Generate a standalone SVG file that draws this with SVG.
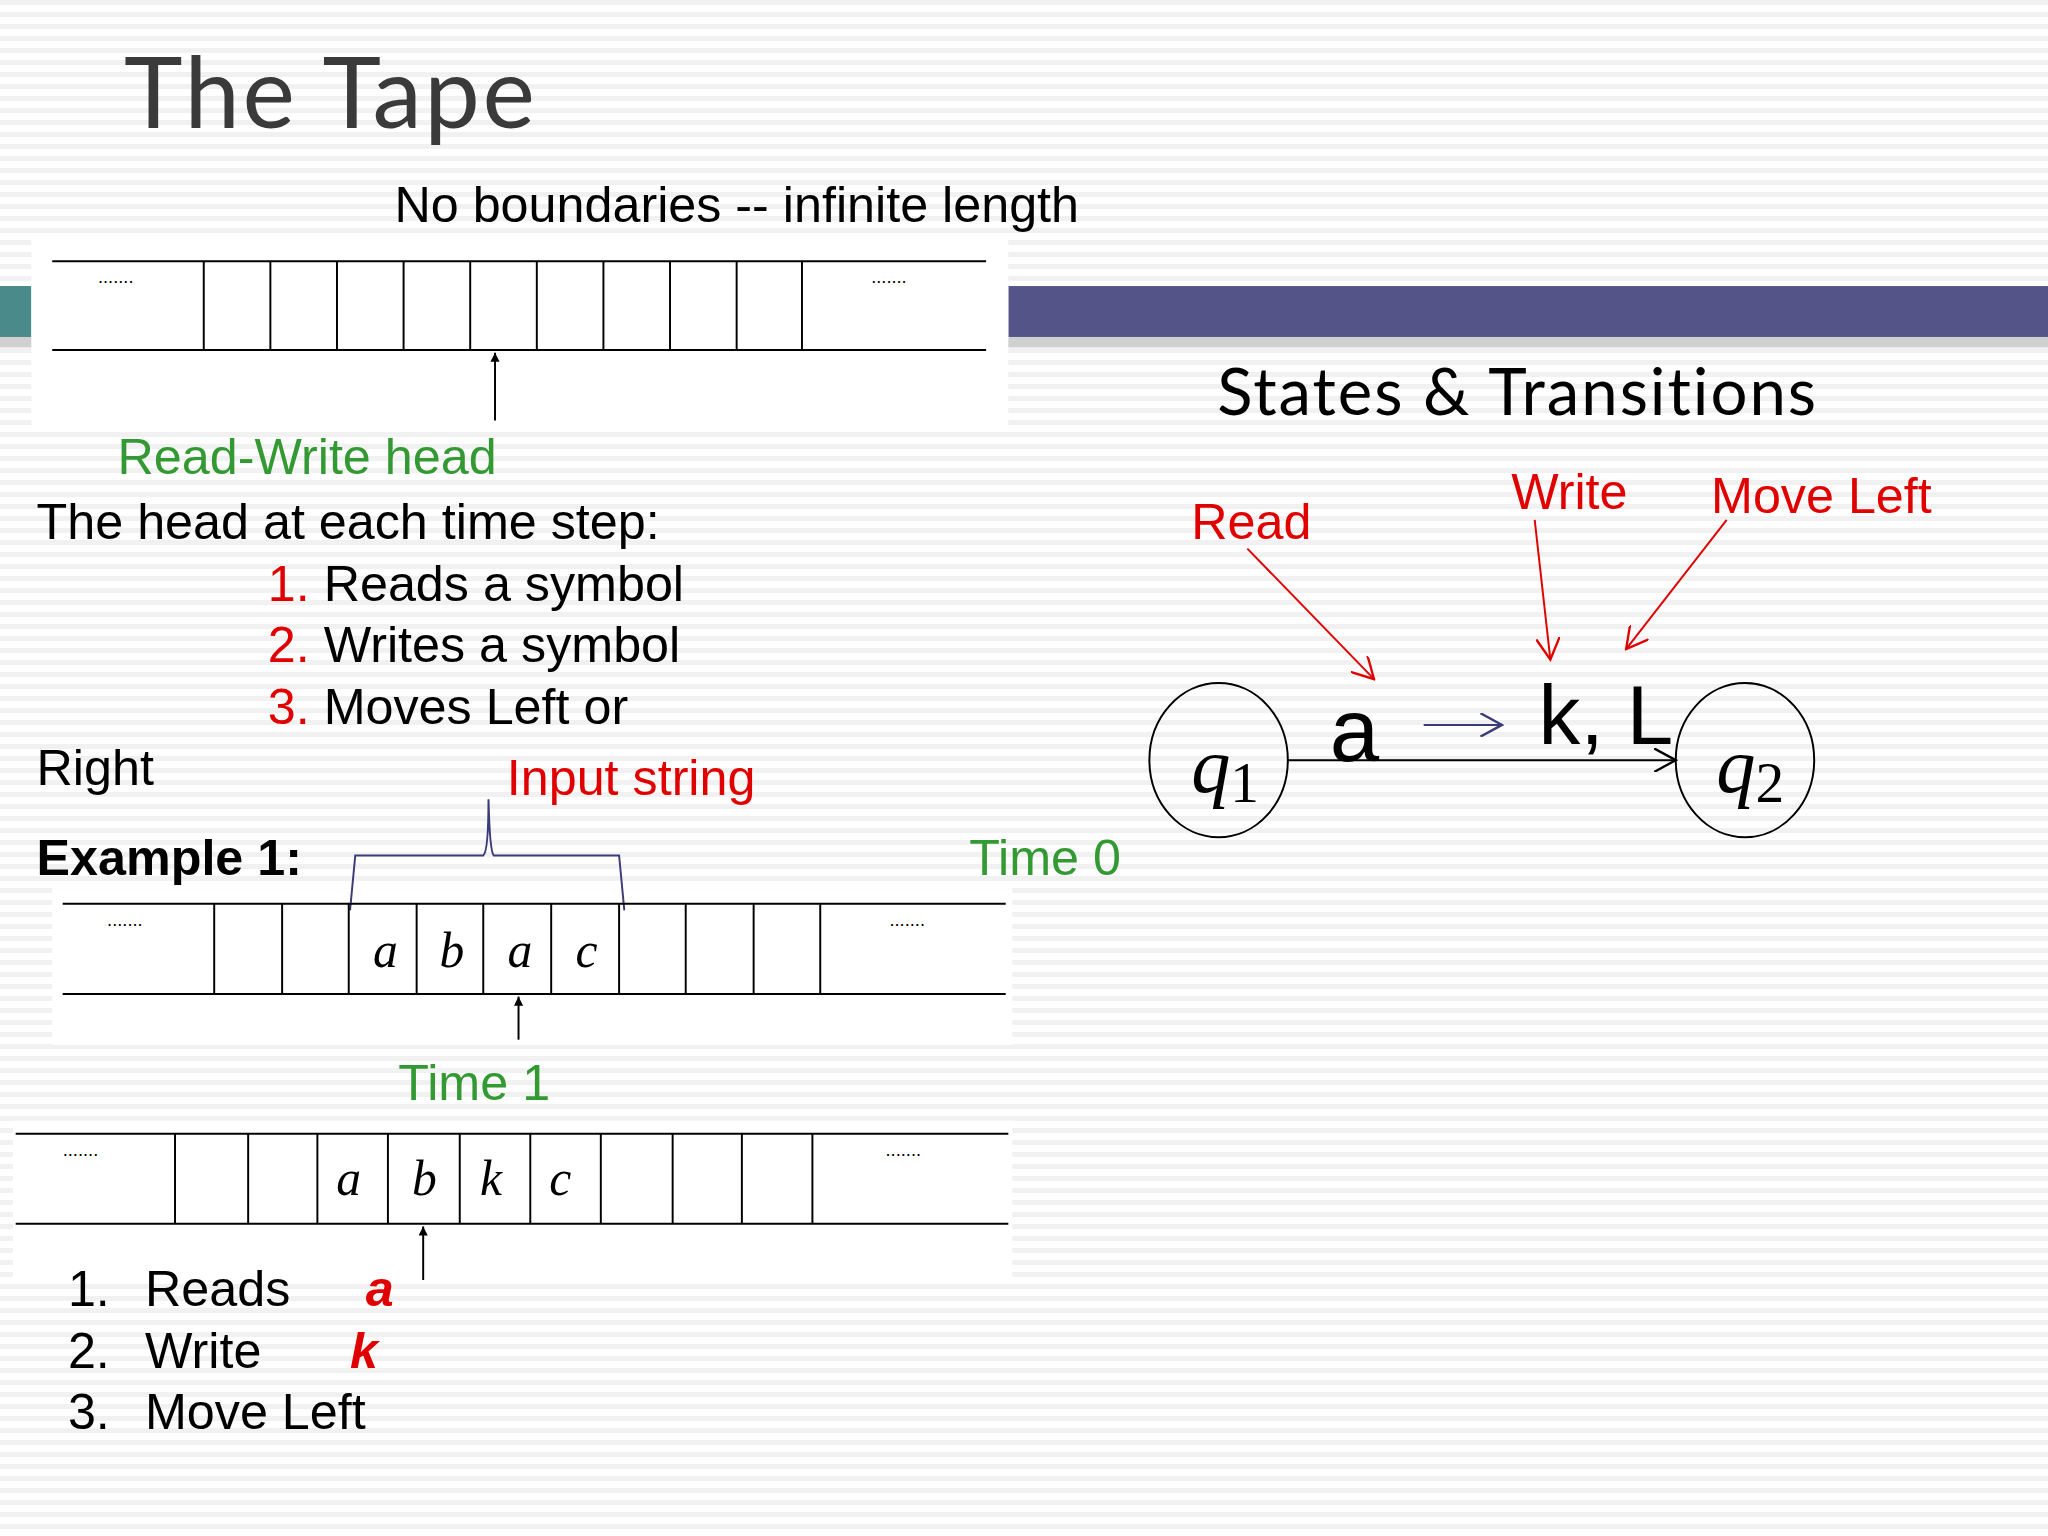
<svg xmlns="http://www.w3.org/2000/svg" width="2048" height="1536" viewBox="0 0 2048 1536">
<defs>
<pattern id="stripes" width="10" height="12" patternUnits="userSpaceOnUse"><rect width="10" height="12" fill="#ffffff"/><rect y="0" width="10" height="5" fill="#f1f1f1"/></pattern>
<marker id="up" viewBox="0 0 10 10" refX="10" refY="5" markerWidth="9" markerHeight="7" orient="auto" markerUnits="userSpaceOnUse"><path d="M0,0 L10,5 L0,10 Z" fill="#000"/></marker>
<marker id="open" viewBox="0 0 12 12" refX="11" refY="6" markerWidth="18" markerHeight="18" orient="auto" markerUnits="userSpaceOnUse"><path d="M0,0 L11,6 L0,12" fill="none" stroke="context-stroke" stroke-width="1.2"/></marker>
<style>
.t{font-family:"Liberation Sans",Arial,sans-serif;font-size:38.5px}
.g{fill:#339933}.r{fill:#e00000}
.tape line{stroke:#000;stroke-width:1.5}
.sym{font-family:"Liberation Serif","Times New Roman",serif;font-style:italic;font-size:38px;text-anchor:middle}
.dots{font-family:"Liberation Sans",sans-serif;font-size:14px}
.red{stroke:#e00000;stroke-width:1.5;fill:none}
</style>
</defs>
<rect width="2048" height="1536" fill="url(#stripes)"/>
<g transform="scale(1.30612)">
<rect x="772" y="219" width="796" height="39" fill="#545488"/>
<rect x="0" y="219" width="24" height="39" fill="#4a8a8a"/>
<rect x="0" y="258" width="1568" height="8" fill="#d0d0d0"/>
<rect x="24" y="180" width="748" height="150" fill="#fff"/>
<rect x="40" y="680" width="735" height="120" fill="#fff"/>
<rect x="10" y="858" width="765" height="120" fill="#fff"/>
<text id="title" x="95" y="98" font-family="Lato,'DejaVu Sans',sans-serif" font-size="76" letter-spacing="2" fill="#3a3a3a">The Tape</text>
<text class="t" x="302" y="170">No boundaries -- infinite length</text>
<g id="tape0" class="tape">
<line x1="40" y1="200" x2="755" y2="200"/><line x1="40" y1="268" x2="755" y2="268"/>
<line x1="156" y1="200" x2="156" y2="268"/><line x1="207" y1="200" x2="207" y2="268"/><line x1="258" y1="200" x2="258" y2="268"/><line x1="309" y1="200" x2="309" y2="268"/><line x1="360" y1="200" x2="360" y2="268"/><line x1="411" y1="200" x2="411" y2="268"/><line x1="462" y1="200" x2="462" y2="268"/><line x1="513" y1="200" x2="513" y2="268"/><line x1="564" y1="200" x2="564" y2="268"/><line x1="614" y1="200" x2="614" y2="268"/>
<text class="dots" x="75" y="217">.......</text><text class="dots" x="667" y="217">.......</text>
</g>
<text class="t g" x="90" y="363">Read-Write head</text>
<text class="t" x="28" y="413">The head at each time step:</text>
<text class="t" x="205" y="460"><tspan class="r">1.</tspan> Reads a symbol</text>
<text class="t" x="205" y="507"><tspan class="r">2.</tspan> Writes a symbol</text>
<text class="t" x="205" y="554"><tspan class="r">3.</tspan> Moves Left or</text>
<text class="t" x="28" y="601">Right</text>
<text class="t r" x="388" y="609">Input string</text>
<text class="t" x="28" y="670" font-weight="bold">Example 1:</text>
<text class="t g" x="742" y="670">Time 0</text>
<path d="M268,697 L272,655 L370,655 Q374,652 374,612 Q375,652 378,655 L474,655 L478,697" fill="none" stroke="#3b3b7a" stroke-width="1.5"/>
<g id="tape1" class="tape">
<line x1="48" y1="692" x2="770" y2="692"/><line x1="48" y1="761" x2="770" y2="761"/>
<line x1="164" y1="692" x2="164" y2="761"/><line x1="216" y1="692" x2="216" y2="761"/><line x1="267" y1="692" x2="267" y2="761"/><line x1="319" y1="692" x2="319" y2="761"/><line x1="370" y1="692" x2="370" y2="761"/><line x1="422" y1="692" x2="422" y2="761"/><line x1="474" y1="692" x2="474" y2="761"/><line x1="525" y1="692" x2="525" y2="761"/><line x1="577" y1="692" x2="577" y2="761"/><line x1="628" y1="692" x2="628" y2="761"/>
<text class="dots" x="82" y="709">.......</text><text class="dots" x="681" y="709">.......</text>
<text class="sym" x="295" y="740">a</text><text class="sym" x="346" y="740">b</text><text class="sym" x="398" y="740">a</text><text class="sym" x="449" y="740">c</text>
</g>
<text class="t g" x="305" y="842">Time 1</text>
<g id="tape2" class="tape">
<line x1="12" y1="868" x2="772" y2="868"/><line x1="12" y1="937" x2="772" y2="937"/>
<line x1="134" y1="868" x2="134" y2="937"/><line x1="190" y1="868" x2="190" y2="937"/><line x1="243" y1="868" x2="243" y2="937"/><line x1="297" y1="868" x2="297" y2="937"/><line x1="352" y1="868" x2="352" y2="937"/><line x1="406" y1="868" x2="406" y2="937"/><line x1="460" y1="868" x2="460" y2="937"/><line x1="515" y1="868" x2="515" y2="937"/><line x1="568" y1="868" x2="568" y2="937"/><line x1="622" y1="868" x2="622" y2="937"/>
<text class="dots" x="48" y="885">.......</text><text class="dots" x="678" y="885">.......</text>
<text class="sym" x="267" y="915">a</text><text class="sym" x="325" y="915">b</text><text class="sym" x="376" y="915">k</text><text class="sym" x="429" y="915">c</text>
</g>
<g id="connectors" stroke="#000" stroke-width="1.5">
<line x1="379" y1="322" x2="379" y2="270" marker-end="url(#up)"/>
<line x1="397" y1="796" x2="397" y2="763" marker-end="url(#up)"/>
<line x1="324" y1="980" x2="324" y2="939" marker-end="url(#up)"/>
<line x1="986" y1="582" x2="1283" y2="582" marker-end="url(#open)"/>
<line x1="1090" y1="555" x2="1150" y2="555" stroke="#3b3b7a" marker-end="url(#open)"/>
<line class="red" x1="955" y1="420" x2="1052" y2="520" marker-end="url(#open)"/>
<line class="red" x1="1175" y1="398" x2="1187" y2="505" marker-end="url(#open)"/>
<line class="red" x1="1322" y1="398" x2="1245" y2="497" marker-end="url(#open)"/>
</g>
<text class="t" x="52" y="1000">1.</text><text class="t" x="111" y="1000">Reads</text><text class="t r" x="280" y="1000" font-weight="bold" font-style="italic">a</text>
<text class="t" x="52" y="1047">2.</text><text class="t" x="111" y="1047">Write</text><text class="t r" x="268" y="1047" font-weight="bold" font-style="italic">k</text>
<text class="t" x="52" y="1094">3.</text><text class="t" x="111" y="1094">Move Left</text>
<text x="932" y="318" font-family="Lato,'DejaVu Sans',sans-serif" font-size="50" letter-spacing="1.5">States &amp; Transitions</text>
<text class="t r" x="912" y="413">Read</text>
<text class="t r" x="1157" y="390">Write</text>
<text class="t r" x="1310" y="393">Move Left</text>
<g id="q1"><ellipse cx="933" cy="582" rx="53" ry="59" fill="none" stroke="#000" stroke-width="1.5"/><text x="912" y="606" font-family="Liberation Serif,serif" font-style="italic" font-size="60">q<tspan font-style="normal" font-size="44" dy="8">1</tspan></text></g>
<g id="q2"><ellipse cx="1336" cy="582" rx="53" ry="59" fill="none" stroke="#000" stroke-width="1.5"/><text x="1314" y="606" font-family="Liberation Serif,serif" font-style="italic" font-size="60">q<tspan font-style="normal" font-size="44" dy="8">2</tspan></text></g>
<text x="1018" y="583" font-family="Liberation Sans,sans-serif" font-size="68">a</text>
<text x="1178" y="570" font-family="Liberation Sans,sans-serif" font-size="64">k, L</text>
</g>
</svg>
